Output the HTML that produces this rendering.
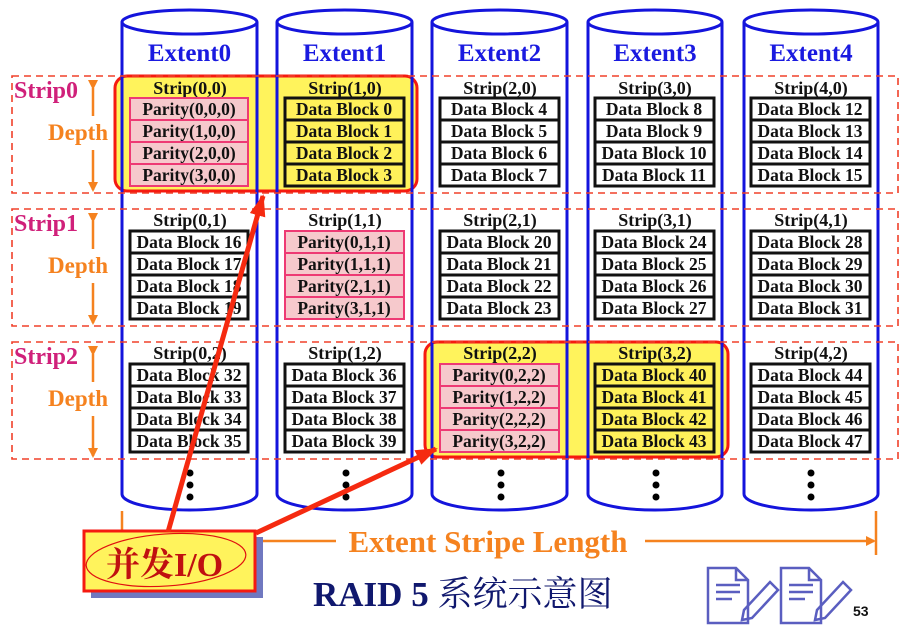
<!DOCTYPE html>
<html><head><meta charset="utf-8"><style>
html,body{margin:0;padding:0;background:#fff;}
svg{display:block}
.b{font-family:"Liberation Serif",serif;font-weight:bold;font-size:17.5px;fill:#111;text-anchor:middle}
.s{font-family:"Liberation Serif",serif;font-weight:bold;font-size:18px;fill:#111;text-anchor:middle}
.d{fill:#fff;stroke:#111;stroke-width:3}
.dy{fill:#fff15a;stroke:#111;stroke-width:3}
.p{fill:#f6c9cc;stroke:#ee3a74;stroke-width:2}
.e{font-family:"Liberation Serif",serif;font-weight:bold;font-size:25px;fill:#1a1ae0;text-anchor:middle}
.sl{font-family:"Liberation Serif",serif;font-weight:bold;font-size:24px;fill:#d0207a}
.dp{font-family:"Liberation Serif",serif;font-weight:bold;font-size:23px;fill:#f5821f}
</style></head><body>
<svg width="918" height="629" viewBox="0 0 918 629" xmlns="http://www.w3.org/2000/svg">
<defs>
<marker id="oa" markerWidth="10" markerHeight="10" refX="8" refY="5" orient="auto" markerUnits="userSpaceOnUse"><path d="M0,0 L10,5 L0,10 z" fill="#f5821f"/></marker>
<marker id="ra" markerWidth="22" markerHeight="16" refX="20" refY="8" orient="auto" markerUnits="userSpaceOnUse"><path d="M0,0 L22,8 L0,16 z" fill="#f52a10"/></marker>
</defs>
<g fill="#fff" stroke="none">
<path d="M122,22 V494 A67.5,16 0 0 0 257,494 V22 z"/>
<path d="M277,22 V494 A67.5,16 0 0 0 412,494 V22 z"/>
<path d="M432,22 V494 A67.5,16 0 0 0 567,494 V22 z"/>
<path d="M588,22 V494 A67,16 0 0 0 722,494 V22 z"/>
<path d="M744,22 V494 A67,16 0 0 0 878,494 V22 z"/>
</g>
<rect x="115" y="76" width="302" height="115" rx="12" fill="#fff35c" stroke="#f51a10" stroke-width="3"/>
<rect x="425" y="342" width="303" height="115" rx="12" fill="#fff35c" stroke="#f51a10" stroke-width="3"/>
<g fill="none" stroke="#1414dc" stroke-width="3">
<path d="M122,22 V494 A67.5,16 0 0 0 257,494 V22"/><ellipse cx="189.5" cy="22" rx="67.5" ry="12" fill="#fff"/>
<path d="M277,22 V494 A67.5,16 0 0 0 412,494 V22"/><ellipse cx="344.5" cy="22" rx="67.5" ry="12" fill="#fff"/>
<path d="M432,22 V494 A67.5,16 0 0 0 567,494 V22"/><ellipse cx="499.5" cy="22" rx="67.5" ry="12" fill="#fff"/>
<path d="M588,22 V494 A67,16 0 0 0 722,494 V22"/><ellipse cx="655" cy="22" rx="67" ry="12" fill="#fff"/>
<path d="M744,22 V494 A67,16 0 0 0 878,494 V22"/><ellipse cx="811" cy="22" rx="67" ry="12" fill="#fff"/>
</g>
<text class="e" x="189.5" y="61">Extent0</text>
<text class="e" x="344.5" y="61">Extent1</text>
<text class="e" x="499.5" y="61">Extent2</text>
<text class="e" x="655" y="61">Extent3</text>
<text class="e" x="811" y="61">Extent4</text>
<g fill="none" stroke="#f0402a" stroke-width="1.6" stroke-dasharray="7,5">
<rect x="12" y="76" width="886" height="117"/>
<rect x="12" y="209" width="886" height="117"/>
<rect x="12" y="342" width="886" height="117"/>
</g>
<text class="sl" x="14" y="98">Strip0</text>
<text class="sl" x="14" y="231">Strip1</text>
<text class="sl" x="14" y="364">Strip2</text>
<g stroke="#f5821f" stroke-width="2.5">
<line x1="93" y1="88" x2="93" y2="116" marker-start="url(#oa)"/>
<line x1="93" y1="150" x2="93" y2="190" marker-end="url(#oa)"/>
<line x1="93" y1="221" x2="93" y2="249" marker-start="url(#oa)"/>
<line x1="93" y1="283" x2="93" y2="323" marker-end="url(#oa)"/>
<line x1="93" y1="354" x2="93" y2="382" marker-start="url(#oa)"/>
<line x1="93" y1="416" x2="93" y2="456" marker-end="url(#oa)"/>
</g>
<text class="dp" x="48" y="140">Depth</text>
<text class="dp" x="48" y="273">Depth</text>
<text class="dp" x="48" y="406">Depth</text>

<text class="s" x="190" y="94">Strip(0,0)</text>
<text class="s" x="345" y="94">Strip(1,0)</text>
<text class="s" x="500" y="94">Strip(2,0)</text>
<text class="s" x="655" y="94">Strip(3,0)</text>
<text class="s" x="811" y="94">Strip(4,0)</text>
<g>
<rect class="p" x="130" y="98" width="118" height="22"/><rect class="p" x="130" y="120" width="118" height="22"/><rect class="p" x="130" y="142" width="118" height="22"/><rect class="p" x="130" y="164" width="118" height="22"/>
<rect class="dy" x="285" y="98" width="119" height="22"/><rect class="dy" x="285" y="120" width="119" height="22"/><rect class="dy" x="285" y="142" width="119" height="22"/><rect class="dy" x="285" y="164" width="119" height="22"/>
<rect class="d" x="440" y="98" width="119" height="22"/><rect class="d" x="440" y="120" width="119" height="22"/><rect class="d" x="440" y="142" width="119" height="22"/><rect class="d" x="440" y="164" width="119" height="22"/>
<rect class="d" x="595" y="98" width="119" height="22"/><rect class="d" x="595" y="120" width="119" height="22"/><rect class="d" x="595" y="142" width="119" height="22"/><rect class="d" x="595" y="164" width="119" height="22"/>
<rect class="d" x="751" y="98" width="119" height="22"/><rect class="d" x="751" y="120" width="119" height="22"/><rect class="d" x="751" y="142" width="119" height="22"/><rect class="d" x="751" y="164" width="119" height="22"/>
</g>
<text class="b" x="189" y="115">Parity(0,0,0)</text><text class="b" x="189" y="137">Parity(1,0,0)</text><text class="b" x="189" y="159">Parity(2,0,0)</text><text class="b" x="189" y="181">Parity(3,0,0)</text>
<text class="b" x="344" y="115">Data Block 0</text><text class="b" x="344" y="137">Data Block 1</text><text class="b" x="344" y="159">Data Block 2</text><text class="b" x="344" y="181">Data Block 3</text>
<text class="b" x="499" y="115">Data Block 4</text><text class="b" x="499" y="137">Data Block 5</text><text class="b" x="499" y="159">Data Block 6</text><text class="b" x="499" y="181">Data Block 7</text>
<text class="b" x="654" y="115">Data Block 8</text><text class="b" x="654" y="137">Data Block 9</text><text class="b" x="654" y="159">Data Block 10</text><text class="b" x="654" y="181">Data Block 11</text>
<text class="b" x="810" y="115">Data Block 12</text><text class="b" x="810" y="137">Data Block 13</text><text class="b" x="810" y="159">Data Block 14</text><text class="b" x="810" y="181">Data Block 15</text>

<text class="s" x="190" y="226">Strip(0,1)</text>
<text class="s" x="345" y="226">Strip(1,1)</text>
<text class="s" x="500" y="226">Strip(2,1)</text>
<text class="s" x="655" y="226">Strip(3,1)</text>
<text class="s" x="811" y="226">Strip(4,1)</text>
<g>
<rect class="d" x="130" y="231" width="118" height="22"/><rect class="d" x="130" y="253" width="118" height="22"/><rect class="d" x="130" y="275" width="118" height="22"/><rect class="d" x="130" y="297" width="118" height="22"/>
<rect class="p" x="285" y="231" width="119" height="22"/><rect class="p" x="285" y="253" width="119" height="22"/><rect class="p" x="285" y="275" width="119" height="22"/><rect class="p" x="285" y="297" width="119" height="22"/>
<rect class="d" x="440" y="231" width="119" height="22"/><rect class="d" x="440" y="253" width="119" height="22"/><rect class="d" x="440" y="275" width="119" height="22"/><rect class="d" x="440" y="297" width="119" height="22"/>
<rect class="d" x="595" y="231" width="119" height="22"/><rect class="d" x="595" y="253" width="119" height="22"/><rect class="d" x="595" y="275" width="119" height="22"/><rect class="d" x="595" y="297" width="119" height="22"/>
<rect class="d" x="751" y="231" width="119" height="22"/><rect class="d" x="751" y="253" width="119" height="22"/><rect class="d" x="751" y="275" width="119" height="22"/><rect class="d" x="751" y="297" width="119" height="22"/>
</g>
<text class="b" x="189" y="248">Data Block 16</text><text class="b" x="189" y="270">Data Block 17</text><text class="b" x="189" y="292">Data Block 18</text><text class="b" x="189" y="314">Data Block 19</text>
<text class="b" x="344" y="248">Parity(0,1,1)</text><text class="b" x="344" y="270">Parity(1,1,1)</text><text class="b" x="344" y="292">Parity(2,1,1)</text><text class="b" x="344" y="314">Parity(3,1,1)</text>
<text class="b" x="499" y="248">Data Block 20</text><text class="b" x="499" y="270">Data Block 21</text><text class="b" x="499" y="292">Data Block 22</text><text class="b" x="499" y="314">Data Block 23</text>
<text class="b" x="654" y="248">Data Block 24</text><text class="b" x="654" y="270">Data Block 25</text><text class="b" x="654" y="292">Data Block 26</text><text class="b" x="654" y="314">Data Block 27</text>
<text class="b" x="810" y="248">Data Block 28</text><text class="b" x="810" y="270">Data Block 29</text><text class="b" x="810" y="292">Data Block 30</text><text class="b" x="810" y="314">Data Block 31</text>

<text class="s" x="190" y="359">Strip(0,2)</text>
<text class="s" x="345" y="359">Strip(1,2)</text>
<text class="s" x="500" y="359">Strip(2,2)</text>
<text class="s" x="655" y="359">Strip(3,2)</text>
<text class="s" x="811" y="359">Strip(4,2)</text>
<g>
<rect class="d" x="130" y="364" width="118" height="22"/><rect class="d" x="130" y="386" width="118" height="22"/><rect class="d" x="130" y="408" width="118" height="22"/><rect class="d" x="130" y="430" width="118" height="22"/>
<rect class="d" x="285" y="364" width="119" height="22"/><rect class="d" x="285" y="386" width="119" height="22"/><rect class="d" x="285" y="408" width="119" height="22"/><rect class="d" x="285" y="430" width="119" height="22"/>
<rect class="p" x="440" y="364" width="119" height="22"/><rect class="p" x="440" y="386" width="119" height="22"/><rect class="p" x="440" y="408" width="119" height="22"/><rect class="p" x="440" y="430" width="119" height="22"/>
<rect class="dy" x="595" y="364" width="119" height="22"/><rect class="dy" x="595" y="386" width="119" height="22"/><rect class="dy" x="595" y="408" width="119" height="22"/><rect class="dy" x="595" y="430" width="119" height="22"/>
<rect class="d" x="751" y="364" width="119" height="22"/><rect class="d" x="751" y="386" width="119" height="22"/><rect class="d" x="751" y="408" width="119" height="22"/><rect class="d" x="751" y="430" width="119" height="22"/>
</g>
<text class="b" x="189" y="381">Data Block 32</text><text class="b" x="189" y="403">Data Block 33</text><text class="b" x="189" y="425">Data Block 34</text><text class="b" x="189" y="447">Data Block 35</text>
<text class="b" x="344" y="381">Data Block 36</text><text class="b" x="344" y="403">Data Block 37</text><text class="b" x="344" y="425">Data Block 38</text><text class="b" x="344" y="447">Data Block 39</text>
<text class="b" x="499" y="381">Parity(0,2,2)</text><text class="b" x="499" y="403">Parity(1,2,2)</text><text class="b" x="499" y="425">Parity(2,2,2)</text><text class="b" x="499" y="447">Parity(3,2,2)</text>
<text class="b" x="654" y="381">Data Block 40</text><text class="b" x="654" y="403">Data Block 41</text><text class="b" x="654" y="425">Data Block 42</text><text class="b" x="654" y="447">Data Block 43</text>
<text class="b" x="810" y="381">Data Block 44</text><text class="b" x="810" y="403">Data Block 45</text><text class="b" x="810" y="425">Data Block 46</text><text class="b" x="810" y="447">Data Block 47</text>

<g fill="#000">
<circle cx="190" cy="473" r="3.5"/><circle cx="190" cy="485" r="3.5"/><circle cx="190" cy="497" r="3.5"/>
<circle cx="346" cy="473" r="3.5"/><circle cx="346" cy="485" r="3.5"/><circle cx="346" cy="497" r="3.5"/>
<circle cx="501" cy="473" r="3.5"/><circle cx="501" cy="485" r="3.5"/><circle cx="501" cy="497" r="3.5"/>
<circle cx="656" cy="473" r="3.5"/><circle cx="656" cy="485" r="3.5"/><circle cx="656" cy="497" r="3.5"/>
<circle cx="811" cy="473" r="3.5"/><circle cx="811" cy="485" r="3.5"/><circle cx="811" cy="497" r="3.5"/>
</g>

<g stroke="#f5821f" stroke-width="2.5">
<line x1="122" y1="511" x2="122" y2="550"/>
<line x1="876" y1="511" x2="876" y2="555"/>
<line x1="255" y1="541" x2="336" y2="541"/>
<line x1="645" y1="541" x2="874" y2="541" marker-end="url(#oa)"/>
</g>
<text x="488" y="552" font-family="Liberation Serif,serif" font-weight="bold" font-size="31" fill="#f5821f" text-anchor="middle">Extent Stripe Length</text>

<rect x="91" y="537" width="172" height="61" fill="#7078c0"/>
<rect x="84" y="531" width="171" height="60" fill="#fff35c" stroke="#f51a10" stroke-width="3"/>
<ellipse cx="166" cy="560" rx="80" ry="26" fill="none" stroke="#e01010" stroke-width="1.2" transform="rotate(-4 166 560)"/>
<text x="106" y="576" font-family="Liberation Serif,'Noto Serif CJK SC',serif" font-weight="bold" font-size="34" fill="#c01010">并发I/O</text>

<g stroke="#f52a10" stroke-width="5" fill="none">
<line x1="168" y1="532" x2="263" y2="196" marker-end="url(#ra)"/>
<line x1="256" y1="533" x2="436" y2="449" marker-end="url(#ra)"/>
</g>

<text x="313" y="606" font-family="Liberation Serif,'Noto Serif CJK SC',serif" font-weight="bold" font-size="35" fill="#10186e">RAID 5 <tspan font-weight="normal">系统示意图</tspan></text>

<g fill="none" stroke="#5a5ec0" stroke-width="2.5">
<path d="M708,568 H736 L748,580 V623 H708 Z M736,568 V580 H748"/>
<path d="M716,585 H740 M716,592 H740 M716,599 H732"/>
<path d="M770,582 L778,590 L752,618 L742,620 L744,610 Z"/>
<path d="M781,568 H809 L821,580 V623 H781 Z M809,568 V580 H821"/>
<path d="M789,585 H813 M789,592 H813 M789,599 H805"/>
<path d="M843,582 L851,590 L825,618 L815,620 L817,610 Z"/>
</g>
<text x="853" y="616" font-family="Liberation Sans,sans-serif" font-weight="bold" font-size="14" fill="#111">53</text>
</svg>
</body></html>
